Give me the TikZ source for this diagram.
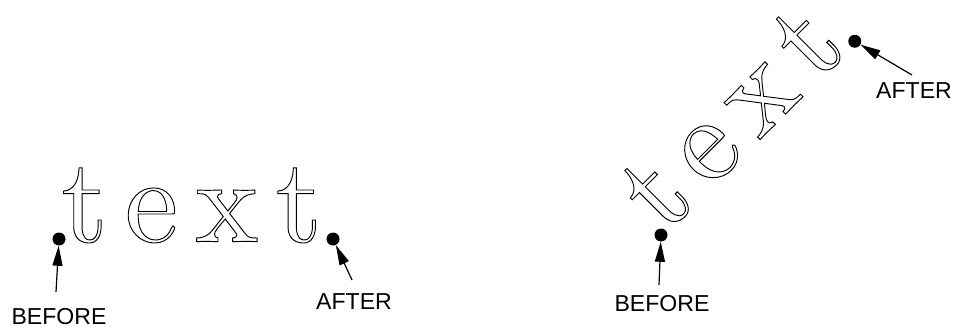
\documentclass[tikz,border=0pt]{standalone}
\usepackage{fontspec}
\newfontfamily\labelfont{Liberation Sans}
\newfontfamily\wordfont{lmroman10-regular}[Extension=.otf]
\usetikzlibrary{arrows.meta}

% hollow (stroked) glyphs
\newcommand{\hollowon}{\special{pdf:literal direct 1 Tr 0.7 w}}
\newcommand{\hollowoff}{\special{pdf:literal direct 0 Tr}}

\begin{document}
\begin{tikzpicture}[x=0.75pt, y=0.75pt,
    spot/.style={circle, fill, inner sep=0pt, minimum size=9.75pt},
    word/.style={anchor=base west, inner sep=0pt, font=\wordfont\fontsize{90}{90}\selectfont},
    tag/.style={inner sep=0pt, font=\labelfont\fontsize{17.3}{20}\selectfont},
    pointer/.style={-{Triangle[length=15pt, width=7.5pt]}, line width=0.9pt}]

    \useasboundingbox (0,0) rectangle (953,333);

    % Horizontal word
    \begin{scope}[shift={(59,94)}]
        \node[word] (textA) at (2,-2.7) {\hollowon t\kern12.75pt e\kern12.75pt x\kern12.75pt t\hollowoff};
        \node[spot] (beforeA) at (0,0) {};
        \node[spot] (afterA) at (274,0) {};
    \end{scope}

    % Rotated word
    \begin{scope}[shift={(661,98)}, rotate=45]
        \node[word, rotate=45] (textB) at (2,-2.7) {\hollowon t\kern12.75pt e\kern12.75pt x\kern12.75pt t\hollowoff};
        \node[spot] (beforeB) at (0,0) {};
        \node[spot] (afterB) at (274,0) {};
    \end{scope}

    % Labels
    \node[tag] (beforeA lbl) at (59,16) {BEFORE};
    \node[tag] (afterA lbl) at (354,31) {AFTER};
    \node[tag] (beforeB lbl) at (662,29) {BEFORE};
    \node[tag] (afterB lbl) at (914,242) {AFTER};

    % Arrow tails
    \coordinate (beforeA tail) at (56,41);
    \coordinate (afterA tail) at (352,53);
    \coordinate (beforeB tail) at (659,48);
    \coordinate (afterB tail) at (912,258);

    % Arrows
    \draw[pointer] (beforeA tail) -- (beforeA);
    \draw[pointer] (afterA tail) -- (afterA);
    \draw[pointer] (beforeB tail) -- (beforeB);
    \draw[pointer] (afterB tail) -- (afterB);

\end{tikzpicture}
\end{document}
